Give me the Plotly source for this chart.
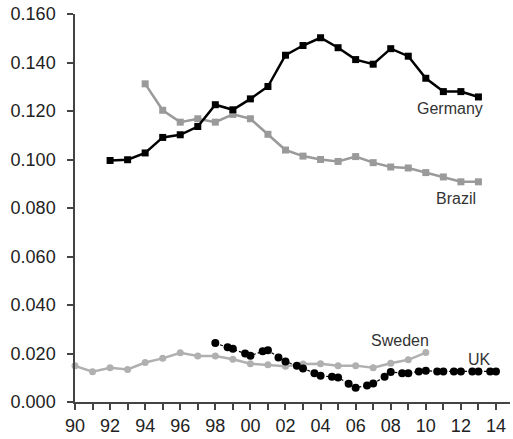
import plotly.graph_objects as go

germany_years = list(range(1992, 2014))
germany = [0.0996, 0.0999, 0.1027, 0.1091, 0.1102, 0.1136, 0.1226, 0.1205, 0.1250, 0.1301,
           0.1430, 0.1470, 0.1502, 0.1461, 0.1412, 0.1393, 0.1457, 0.1426, 0.1335, 0.1280,
           0.1280, 0.1258]

brazil_years = list(range(1994, 2014))
brazil = [0.1312, 0.1203, 0.1154, 0.1168, 0.1154, 0.1186, 0.1168, 0.1104, 0.1039, 0.1014,
          0.1000, 0.0992, 0.1012, 0.0987, 0.0969, 0.0965, 0.0946, 0.0928, 0.0908, 0.0908]

sweden_years = list(range(1990, 2011))
sweden = [0.0149, 0.0125, 0.0141, 0.0134, 0.0163, 0.0180, 0.0203, 0.0190, 0.0190, 0.0176,
          0.0158, 0.0154, 0.0147, 0.0157, 0.0158, 0.0150, 0.0150, 0.0141, 0.0160, 0.0174,
          0.0204]

uk_years = [1998.0, 1998.7, 1999.0, 1999.7, 2000.0, 2000.7, 2001.0, 2001.6, 2002.0, 2002.65,
            2003.0, 2003.65, 2004.0, 2004.65, 2005.0, 2005.6, 2006.0, 2006.65, 2007.0, 2007.65,
            2008.0, 2008.65, 2009.0, 2009.6, 2010.0, 2010.65, 2011.0, 2011.6, 2012.0, 2012.65,
            2013.0, 2013.67, 2014.0]
uk = [0.0243, 0.0226, 0.0220, 0.0200, 0.0191, 0.0209, 0.0213, 0.0184, 0.0167, 0.0150,
      0.0138, 0.0119, 0.0108, 0.0104, 0.0101, 0.0075, 0.0059, 0.0068, 0.0076, 0.0104,
      0.0124, 0.0119, 0.0119, 0.0126, 0.0129, 0.0126, 0.0126, 0.0126, 0.0126, 0.0126,
      0.0126, 0.0126, 0.0126]

tick_years = list(range(1990, 2015))
tick_labels = [str(y)[-2:] if (y % 2 == 0) else "" for y in tick_years]
y_ticks = [0.0, 0.02, 0.04, 0.06, 0.08, 0.10, 0.12, 0.14, 0.16]

labels = [
    dict(text="Germany", x=2013.4, y=0.1210, xanchor="right"),
    dict(text="Brazil", x=2013.0, y=0.0840, xanchor="right"),
    dict(text="Sweden", x=2008.5, y=0.0255, xanchor="center"),
    dict(text="UK", x=2013.07, y=0.0176, xanchor="center"),
]

FONT = "Liberation Sans, Arial, Helvetica, sans-serif"

fig = go.Figure()

fig.add_trace(go.Scatter(x=sweden_years, y=sweden, mode="lines+markers",
                         line=dict(color="#b0b0b0", width=2.5),
                         marker=dict(symbol="circle", size=7, color="#b0b0b0"),
                         cliponaxis=False, showlegend=False))
fig.add_trace(go.Scatter(x=uk_years, y=uk, mode="lines+markers",
                         line=dict(color="#000000", width=1.2, dash="3px,2px"),
                         marker=dict(symbol="circle", size=8, color="#000000"),
                         cliponaxis=False, showlegend=False))
fig.add_trace(go.Scatter(x=brazil_years, y=brazil, mode="lines+markers",
                         line=dict(color="#9a9a9a", width=2.5),
                         marker=dict(symbol="square", size=7, color="#9a9a9a"),
                         cliponaxis=False, showlegend=False))
fig.add_trace(go.Scatter(x=germany_years, y=germany, mode="lines+markers",
                         line=dict(color="#000000", width=2.5),
                         marker=dict(symbol="square", size=7, color="#000000"),
                         cliponaxis=False, showlegend=False))

for lab in labels:
    fig.add_annotation(x=lab["x"], y=lab["y"], text=lab["text"], xanchor=lab["xanchor"],
                       yanchor="middle", showarrow=False,
                       font=dict(family=FONT, size=16, color="#333333"))

fig.update_layout(
    width=513, height=439,
    margin=dict(l=75, r=3, t=14, b=32),
    paper_bgcolor="white", plot_bgcolor="white",
    font=dict(family=FONT, size=18, color="#222222"),
    xaxis=dict(range=[1990, 2014.8], tickvals=tick_years, ticktext=tick_labels,
               showgrid=False, zeroline=False, showline=True, linecolor="#444444", linewidth=1.5,
               ticks="outside", ticklen=6, tickwidth=1.5, tickcolor="#444444",
               ticklabelstandoff=1),
    yaxis=dict(range=[0, 0.16], tickvals=y_ticks, tickformat=".3f",
               showgrid=False, zeroline=False, showline=True, linecolor="#444444", linewidth=1.5,
               ticks="outside", ticklen=6, tickwidth=1.5, tickcolor="#444444",
               ticklabelstandoff=8),
)

fig.write_html("out.html", config={"displayModeBar": False},
               post_script="document.body.style.margin='0';")
